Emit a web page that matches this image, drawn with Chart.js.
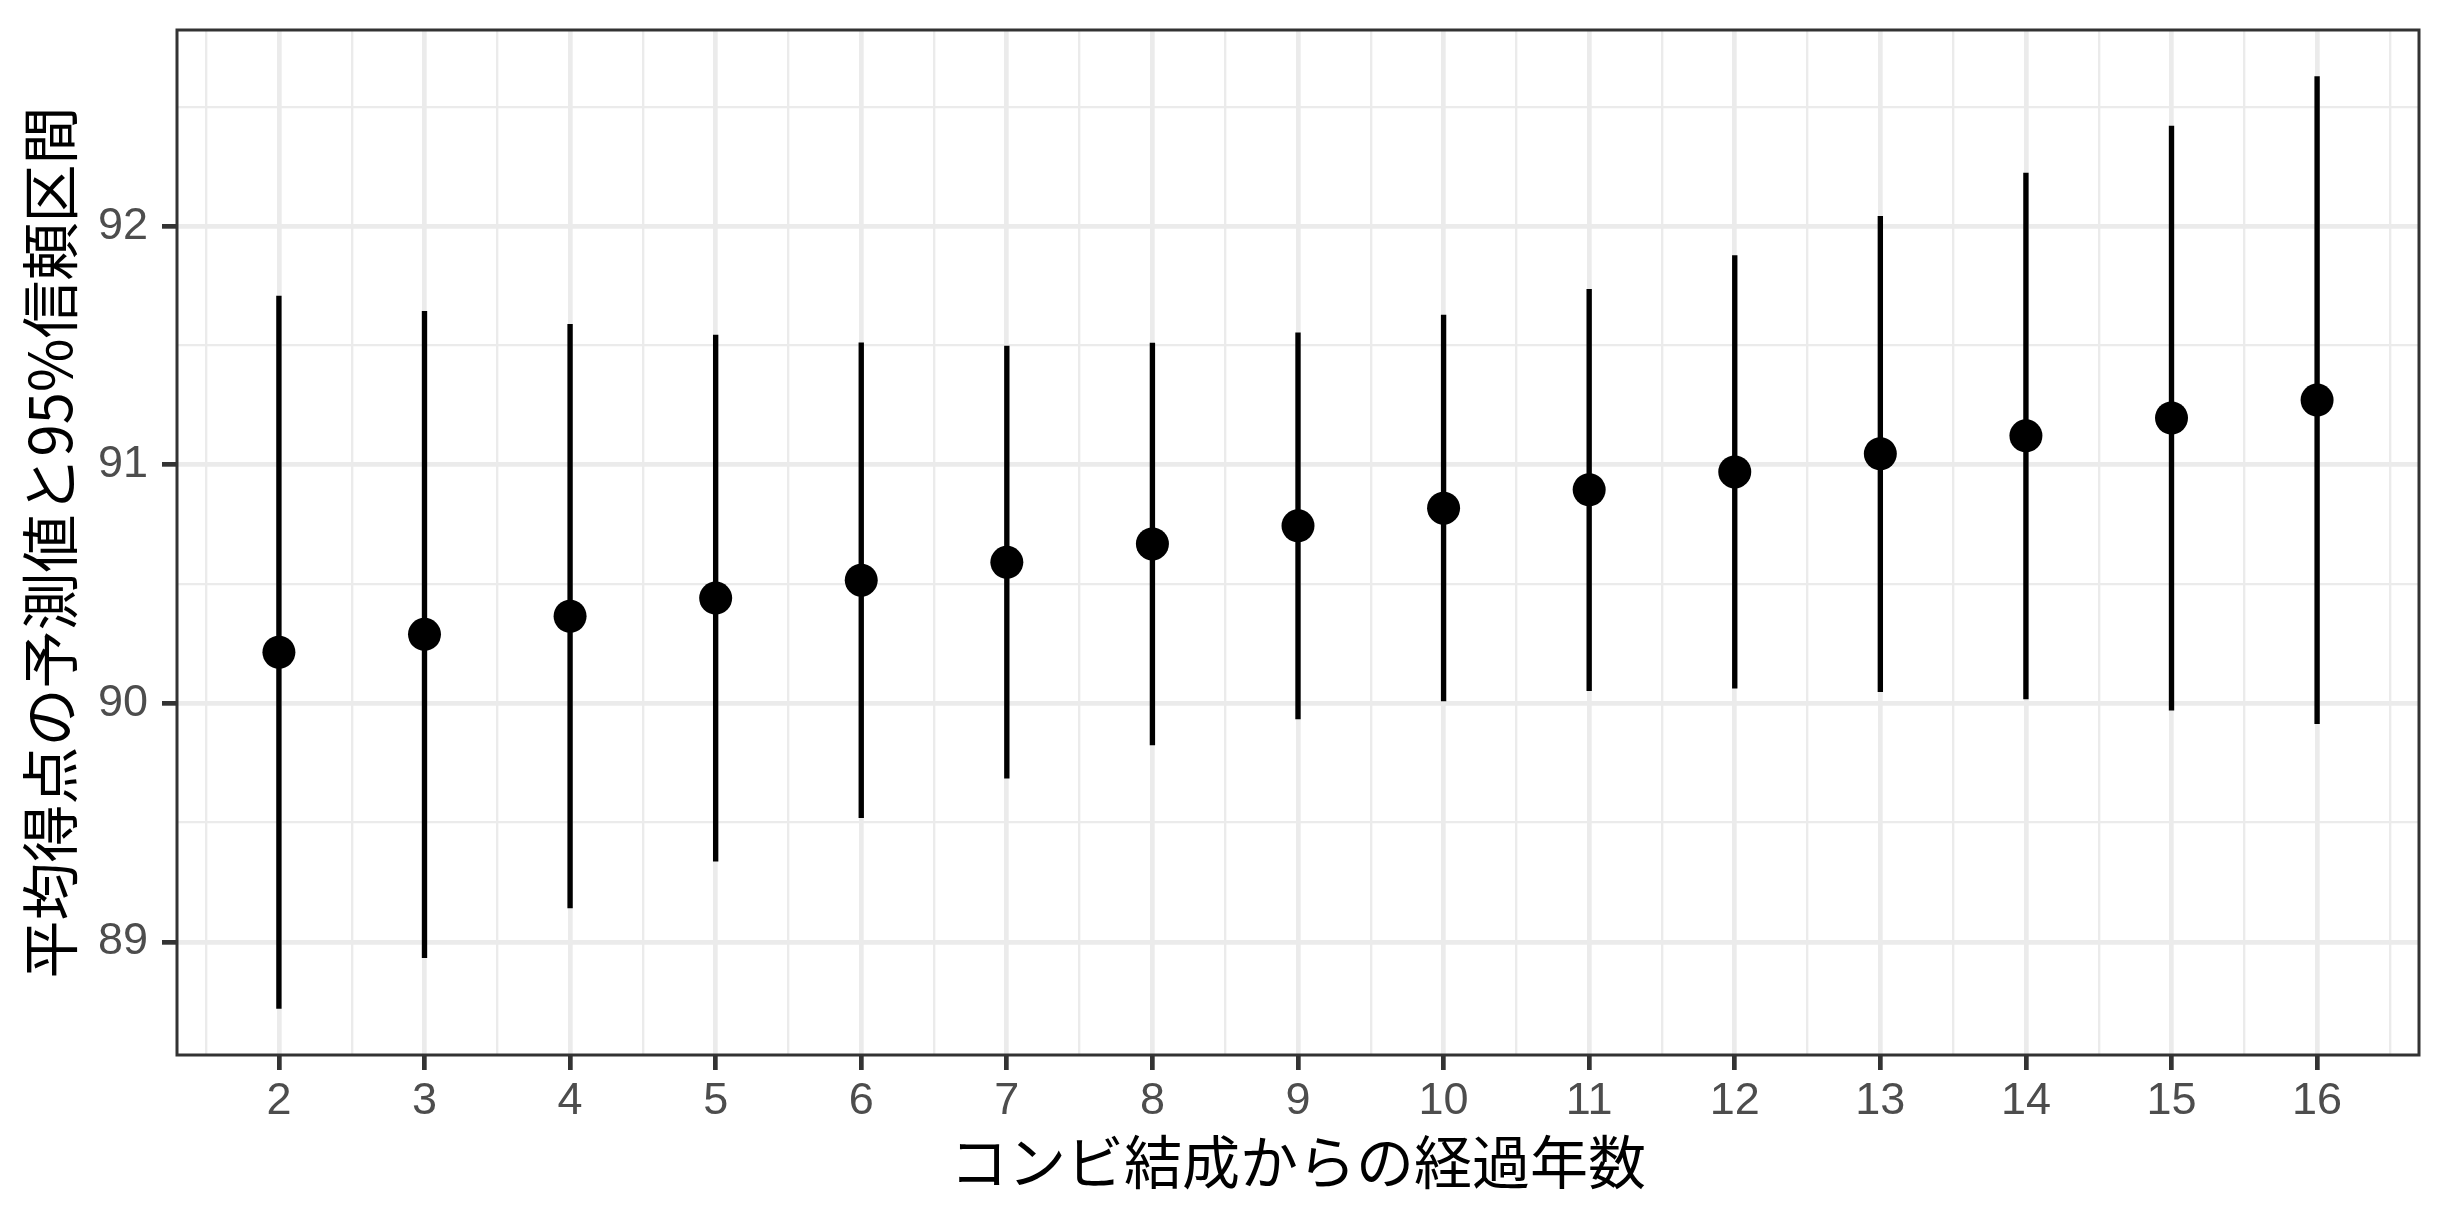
<!DOCTYPE html>
<html>
<head>
<meta charset="utf-8">
<script src="https://cdn.jsdelivr.net/npm/chart.js@4.4.0/dist/chart.umd.min.js"></script>
<style>
html,body{margin:0;padding:0;background:#ffffff;}
#wrap{width:2450px;height:1225px;position:relative;}
</style>
</head>
<body>
<div id="wrap"><canvas id="c" width="2450" height="1225"></canvas></div>
<script>
// ---- data ----
const years = [2, 3, 4, 5, 6, 7, 8, 9, 10, 11, 12, 13, 14, 15, 16];
const predicted = [90.214, 90.289, 90.365, 90.441, 90.516, 90.591, 90.668, 90.744, 90.818, 90.895, 90.970, 91.046, 91.121, 91.196, 91.271];
const lower = [88.721, 88.934, 89.142, 89.338, 89.521, 89.686, 89.826, 89.935, 90.010, 90.053, 90.063, 90.049, 90.018, 89.971, 89.915];
const upper = [91.707, 91.643, 91.589, 91.543, 91.511, 91.497, 91.510, 91.553, 91.627, 91.735, 91.877, 92.041, 92.223, 92.420, 92.627];

const xMajorTicks = [2, 3, 4, 5, 6, 7, 8, 9, 10, 11, 12, 13, 14, 15, 16];
const xMinorTicks = [1.5, 2.5, 3.5, 4.5, 5.5, 6.5, 7.5, 8.5, 9.5, 10.5, 11.5, 12.5, 13.5, 14.5, 15.5, 16.5];
const yMajorTicks = [89, 90, 91, 92];
const yMinorTicks = [89.5, 90.5, 91.5, 92.5];

const xTitle = 'コンビ結成からの経過年数';
const yTitle = '平均得点の予測値と95%信頼区間';

// ---- ggplot-like 5% expansion of the data range ----
const xLo = Math.min(...years), xHi = Math.max(...years);
const xPad = 0.05 * (xHi - xLo);
const yLo = Math.min(...lower), yHi = Math.max(...upper);
const yPad = 0.05 * (yHi - yLo);

const GRID = '#EBEBEB';
const DARK = '#333333';
const MAJOR_W = 4.7, MINOR_W = 2.35;

function makeTicks(major, minor) {
  return [...major, ...minor].sort((a, b) => a - b).map(v => ({ value: v }));
}
function isMajor(list, v) { return list.some(m => Math.abs(m - v) < 1e-9); }

function gridOpts(majors) {
  return {
    color: GRID,
    lineWidth: ctx => (ctx.tick && isMajor(majors, ctx.tick.value)) ? MAJOR_W : MINOR_W,
    tickColor: ctx => (ctx.tick && isMajor(majors, ctx.tick.value)) ? DARK : 'rgba(0,0,0,0)',
    tickWidth: ctx => (ctx.tick && isMajor(majors, ctx.tick.value)) ? MAJOR_W : 1,
    tickLength: 15,
    drawTicks: true,
    drawOnChartArea: true,
    offset: false
  };
}

const panelBorder = {
  id: 'panelBorder',
  afterDatasetsDraw(chart) {
    const { ctx, chartArea: a } = chart;
    ctx.save();
    ctx.strokeStyle = DARK;
    ctx.lineWidth = 3;
    ctx.strokeRect(a.left, a.top, a.right - a.left, a.bottom - a.top);
    ctx.restore();
  }
};

new Chart(document.getElementById('c'), {
  type: 'scatter',
  data: {
    datasets: [
      {
        type: 'bar',
        label: 'ci',
        data: years.map((x, i) => ({ x: x, y: [lower[i], upper[i]] })),
        backgroundColor: '#000000',
        borderWidth: 0,
        barThickness: 4.7,
        grouped: false,
        order: 2
      },
      {
        type: 'scatter',
        label: 'pred',
        data: years.map((x, i) => ({ x: x, y: predicted[i] })),
        pointRadius: 16.5,
        pointHoverRadius: 16.5,
        pointBackgroundColor: '#000000',
        pointBorderColor: '#000000',
        pointBorderWidth: 0,
        order: 1
      }
    ]
  },
  options: {
    responsive: false,
    devicePixelRatio: 1,
    animation: false,
    events: [],
    layout: { padding: { top: 30, right: 31, bottom: 0, left: 0 } },
    plugins: { legend: { display: false }, tooltip: { enabled: false } },
    scales: {
      x: {
        type: 'linear',
        min: xLo - xPad,
        max: xHi + xPad,
        offset: false,
        afterBuildTicks: s => { s.ticks = makeTicks(xMajorTicks, xMinorTicks); },
        afterFit: s => { s.height = 170; s.paddingLeft = 0; s.paddingRight = 0; },
        ticks: {
          autoSkip: false,
          maxRotation: 0,
          minRotation: 0,
          padding: 9,
          color: '#4D4D4D',
          font: { family: 'Liberation Sans, Arial, sans-serif', size: 45, lineHeight: 1 },
          callback: v => isMajor(xMajorTicks, v) ? String(v) : ''
        },
        grid: gridOpts(xMajorTicks),
        border: { display: false },
        title: {
          display: true,
          text: xTitle,
          color: '#000000',
          font: { family: 'Noto Sans CJK JP, sans-serif', size: 58, lineHeight: 1.2 },
          padding: { top: 0, bottom: 28 }
        }
      },
      y: {
        type: 'linear',
        min: yLo - yPad,
        max: yHi + yPad,
        afterBuildTicks: s => { s.ticks = makeTicks(yMajorTicks, yMinorTicks); },
        afterFit: s => { s.width = 177; s.paddingTop = 0; s.paddingBottom = 0; },
        ticks: {
          autoSkip: false,
          padding: 14,
          color: '#4D4D4D',
          font: { family: 'Liberation Sans, Arial, sans-serif', size: 45, lineHeight: 1 },
          callback: v => isMajor(yMajorTicks, v) ? String(v) : ''
        },
        grid: gridOpts(yMajorTicks),
        border: { display: false },
        title: {
          display: true,
          text: yTitle,
          color: '#000000',
          font: { family: 'Noto Sans CJK JP, sans-serif', size: 58, lineHeight: 1.2 },
          padding: { top: 15, bottom: 0 }
        }
      }
    }
  },
  plugins: [panelBorder]
});
</script>
</body>
</html>
